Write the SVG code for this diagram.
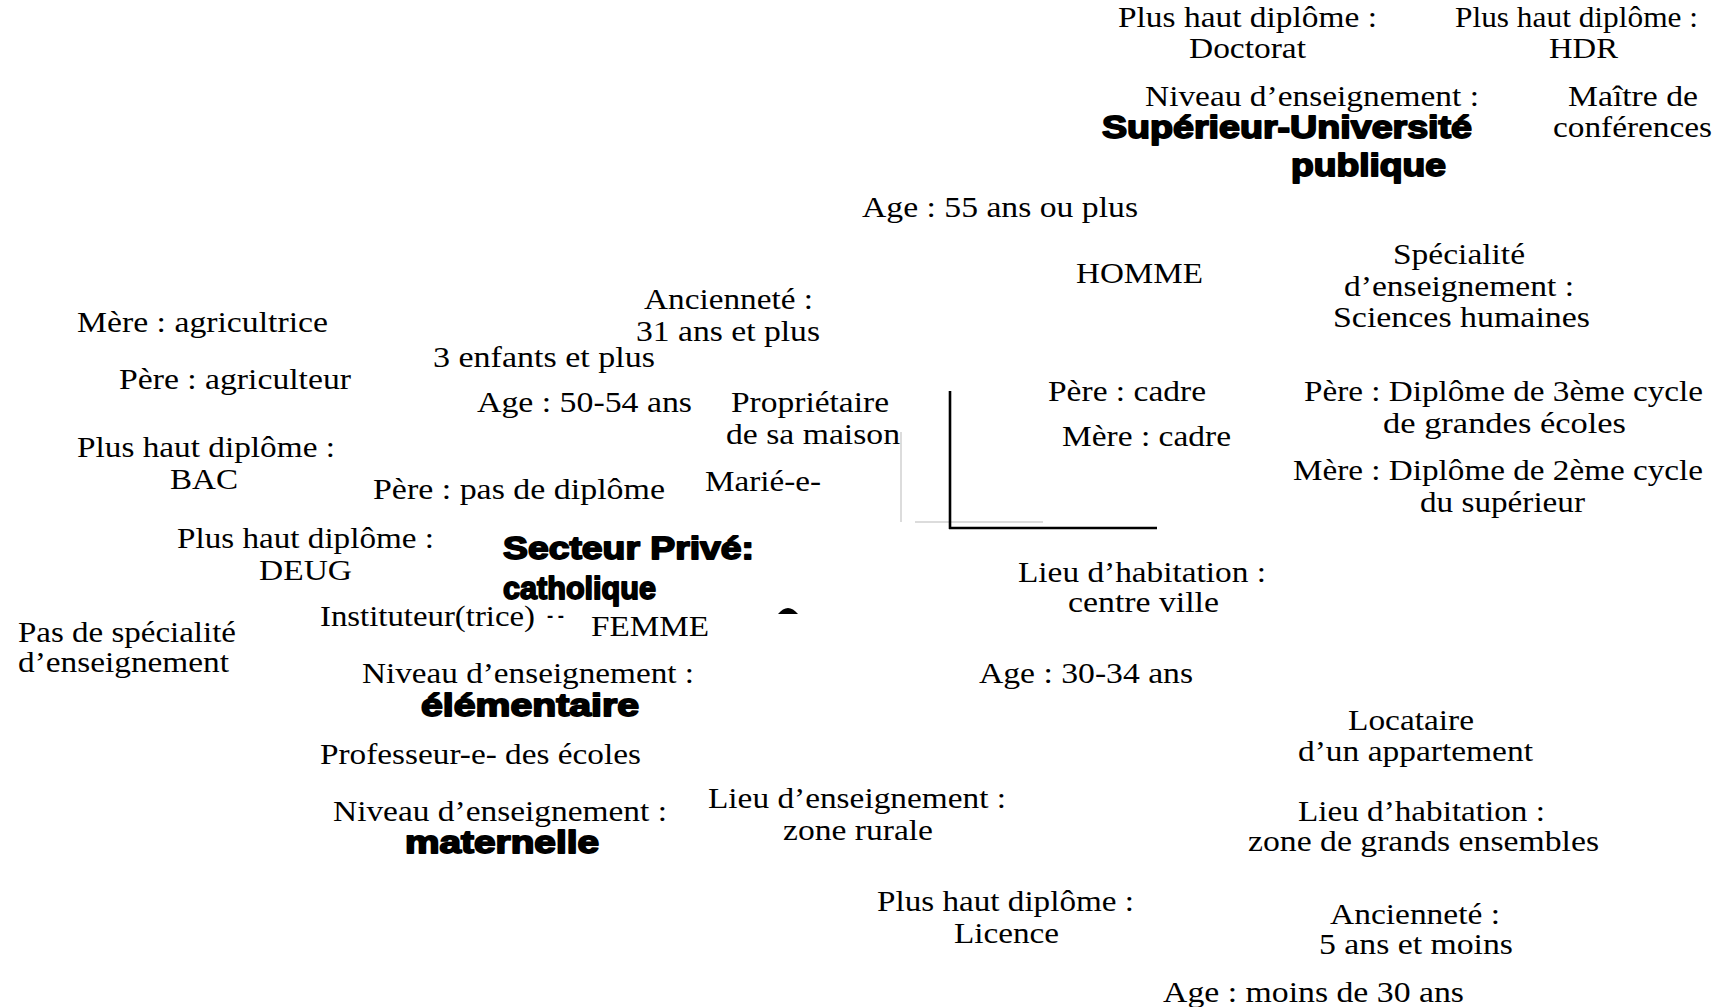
<svg xmlns="http://www.w3.org/2000/svg" width="1731" height="1007" viewBox="0 0 1731 1007">
<style>
.t{font-family:"Liberation Serif","Times New Roman",serif;font-size:29px;fill:#000}
.b{font-family:"Liberation Sans",Arial,sans-serif;font-size:32px;font-weight:700;fill:#000;stroke:#000;stroke-width:1.8px;stroke-linejoin:round}
.ax{stroke:#000;stroke-width:2.6;fill:none}
.gx{stroke:#d0d0d0;stroke-width:1.5;fill:none}
</style>
<rect width="1731" height="1007" fill="#fff"/>
<g id="connectors">
<line class="gx" x1="901" y1="432" x2="901" y2="522"/>
<line class="gx" x1="915" y1="522" x2="1043" y2="522"/>
<line class="ax" x1="950" y1="391" x2="950" y2="529"/>
<line class="ax" x1="949" y1="528" x2="1157" y2="528"/>
<path d="M778,614 Q788,602 798,614 Z" fill="#000"/>
</g>
<g id="nodes" transform="translate(0,2)">
<g id="n-doctorat"><text class="t" x="1118" y="25" textLength="259" lengthAdjust="spacingAndGlyphs">Plus haut diplôme :</text><text class="t" x="1189" y="56" textLength="117" lengthAdjust="spacingAndGlyphs">Doctorat</text></g>
<g id="n-hdr"><text class="t" x="1455" y="25" textLength="243" lengthAdjust="spacingAndGlyphs">Plus haut diplôme :</text><text class="t" x="1549" y="56" textLength="69" lengthAdjust="spacingAndGlyphs">HDR</text></g>
<g id="n-superieur"><text class="t" x="1145" y="104" textLength="334" lengthAdjust="spacingAndGlyphs">Niveau d’enseignement :</text><text class="b" x="1102" y="136" textLength="370" lengthAdjust="spacingAndGlyphs">Supérieur-Université</text><text class="b" x="1291" y="174" textLength="155" lengthAdjust="spacingAndGlyphs">publique</text></g>
<g id="n-maitre"><text class="t" x="1568" y="104" textLength="130" lengthAdjust="spacingAndGlyphs">Maître de</text><text class="t" x="1553" y="135" textLength="159" lengthAdjust="spacingAndGlyphs">conférences</text></g>
<g id="n-age55"><text class="t" x="862" y="215" textLength="276" lengthAdjust="spacingAndGlyphs">Age : 55 ans ou plus</text></g>
<g id="n-homme"><text class="t" x="1076" y="281" textLength="127" lengthAdjust="spacingAndGlyphs">HOMME</text></g>
<g id="n-specialite"><text class="t" x="1393" y="262" textLength="132" lengthAdjust="spacingAndGlyphs">Spécialité</text><text class="t" x="1344" y="294" textLength="230" lengthAdjust="spacingAndGlyphs">d’enseignement :</text><text class="t" x="1333" y="325" textLength="257" lengthAdjust="spacingAndGlyphs">Sciences humaines</text></g>
<g id="n-mere-agri"><text class="t" x="77" y="330" textLength="251" lengthAdjust="spacingAndGlyphs">Mère : agricultrice</text></g>
<g id="n-anc31"><text class="t" x="644" y="307" textLength="169" lengthAdjust="spacingAndGlyphs">Ancienneté :</text><text class="t" x="636" y="339" textLength="184" lengthAdjust="spacingAndGlyphs">31 ans et plus</text></g>
<g id="n-enfants"><text class="t" x="433" y="365" textLength="222" lengthAdjust="spacingAndGlyphs">3 enfants et plus</text></g>
<g id="n-pere-agri"><text class="t" x="119" y="387" textLength="232" lengthAdjust="spacingAndGlyphs">Père : agriculteur</text></g>
<g id="n-age50"><text class="t" x="477" y="410" textLength="215" lengthAdjust="spacingAndGlyphs">Age : 50-54 ans</text></g>
<g id="n-proprietaire"><text class="t" x="731" y="410" textLength="158" lengthAdjust="spacingAndGlyphs">Propriétaire</text><text class="t" x="726" y="442" textLength="174" lengthAdjust="spacingAndGlyphs">de sa maison</text></g>
<g id="n-pere-cadre"><text class="t" x="1048" y="399" textLength="158" lengthAdjust="spacingAndGlyphs">Père : cadre</text></g>
<g id="n-mere-cadre"><text class="t" x="1062" y="444" textLength="169" lengthAdjust="spacingAndGlyphs">Mère : cadre</text></g>
<g id="n-pere-3cycle"><text class="t" x="1304" y="399" textLength="399" lengthAdjust="spacingAndGlyphs">Père : Diplôme de 3ème cycle</text><text class="t" x="1383" y="431" textLength="243" lengthAdjust="spacingAndGlyphs">de grandes écoles</text></g>
<g id="n-bac"><text class="t" x="77" y="455" textLength="258" lengthAdjust="spacingAndGlyphs">Plus haut diplôme :</text><text class="t" x="170" y="487" textLength="68" lengthAdjust="spacingAndGlyphs">BAC</text></g>
<g id="n-pere-pasdip"><text class="t" x="373" y="497" textLength="292" lengthAdjust="spacingAndGlyphs">Père : pas de diplôme</text></g>
<g id="n-marie"><text class="t" x="705" y="489" textLength="116" lengthAdjust="spacingAndGlyphs">Marié-e-</text></g>
<g id="n-mere-2cycle"><text class="t" x="1293" y="478" textLength="410" lengthAdjust="spacingAndGlyphs">Mère : Diplôme de 2ème cycle</text><text class="t" x="1420" y="510" textLength="165" lengthAdjust="spacingAndGlyphs">du supérieur</text></g>
<g id="n-deug"><text class="t" x="177" y="546" textLength="257" lengthAdjust="spacingAndGlyphs">Plus haut diplôme :</text><text class="t" x="259" y="578" textLength="93" lengthAdjust="spacingAndGlyphs">DEUG</text></g>
<g id="n-prive"><text class="b" x="503" y="557" textLength="251" lengthAdjust="spacingAndGlyphs">Secteur Privé:</text><text class="b" x="503" y="597" textLength="153" lengthAdjust="spacingAndGlyphs">catholique</text></g>
<g id="n-centre-ville"><text class="t" x="1018" y="580" textLength="248" lengthAdjust="spacingAndGlyphs">Lieu d’habitation :</text><text class="t" x="1068" y="610" textLength="151" lengthAdjust="spacingAndGlyphs">centre ville</text></g>
<g id="n-instituteur"><text class="t" x="320" y="624" textLength="215" lengthAdjust="spacingAndGlyphs">Instituteur(trice)</text><text class="t" x="547" y="622" textLength="17" lengthAdjust="spacingAndGlyphs">- -</text></g>
<g id="n-femme"><text class="t" x="591" y="634" textLength="118" lengthAdjust="spacingAndGlyphs">FEMME</text></g>
<g id="n-pas-spec"><text class="t" x="18" y="640" textLength="218" lengthAdjust="spacingAndGlyphs">Pas de spécialité</text><text class="t" x="18" y="670" textLength="211" lengthAdjust="spacingAndGlyphs">d’enseignement</text></g>
<g id="n-elementaire"><text class="t" x="362" y="681" textLength="332" lengthAdjust="spacingAndGlyphs">Niveau d’enseignement :</text><text class="b" x="421" y="714" textLength="218" lengthAdjust="spacingAndGlyphs">élémentaire</text></g>
<g id="n-age30"><text class="t" x="979" y="681" textLength="214" lengthAdjust="spacingAndGlyphs">Age : 30-34 ans</text></g>
<g id="n-locataire"><text class="t" x="1348" y="728" textLength="126" lengthAdjust="spacingAndGlyphs">Locataire</text><text class="t" x="1298" y="759" textLength="235" lengthAdjust="spacingAndGlyphs">d’un appartement</text></g>
<g id="n-professeur"><text class="t" x="320" y="762" textLength="321" lengthAdjust="spacingAndGlyphs">Professeur-e- des écoles</text></g>
<g id="n-maternelle"><text class="t" x="333" y="819" textLength="334" lengthAdjust="spacingAndGlyphs">Niveau d’enseignement :</text><text class="b" x="405" y="851" textLength="194" lengthAdjust="spacingAndGlyphs">maternelle</text></g>
<g id="n-rurale"><text class="t" x="708" y="806" textLength="298" lengthAdjust="spacingAndGlyphs">Lieu d’enseignement :</text><text class="t" x="783" y="838" textLength="150" lengthAdjust="spacingAndGlyphs">zone rurale</text></g>
<g id="n-grands-ensembles"><text class="t" x="1298" y="819" textLength="247" lengthAdjust="spacingAndGlyphs">Lieu d’habitation :</text><text class="t" x="1248" y="849" textLength="351" lengthAdjust="spacingAndGlyphs">zone de grands ensembles</text></g>
<g id="n-licence"><text class="t" x="877" y="909" textLength="257" lengthAdjust="spacingAndGlyphs">Plus haut diplôme :</text><text class="t" x="954" y="941" textLength="105" lengthAdjust="spacingAndGlyphs">Licence</text></g>
<g id="n-anc5"><text class="t" x="1330" y="922" textLength="170" lengthAdjust="spacingAndGlyphs">Ancienneté :</text><text class="t" x="1319" y="952" textLength="194" lengthAdjust="spacingAndGlyphs">5 ans et moins</text></g>
<g id="n-age-moins30"><text class="t" x="1163" y="1000" textLength="301" lengthAdjust="spacingAndGlyphs">Age : moins de 30 ans</text></g>
</g>
</svg>
